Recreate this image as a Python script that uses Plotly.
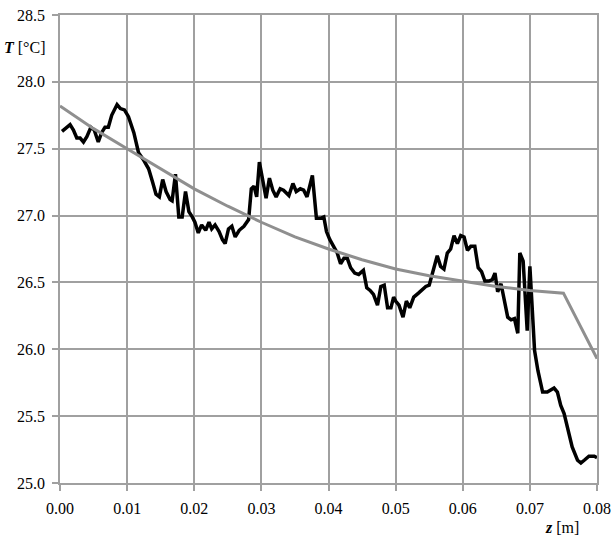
import plotly.graph_objects as go

meas_z = [0.0003, 0.0015, 0.0020, 0.0025, 0.0030, 0.0035, 0.0040, 0.0046, 0.0051, 0.0057,
          0.0062, 0.0067, 0.0072, 0.0077, 0.0085, 0.0090, 0.0096, 0.0102, 0.0110, 0.0117,
          0.0124, 0.0132, 0.0138, 0.0143, 0.0148, 0.0153, 0.0158, 0.0164, 0.0167, 0.0172,
          0.0177, 0.0182, 0.0187, 0.0192, 0.0197, 0.0201, 0.0206, 0.0211, 0.0217, 0.0222,
          0.0226, 0.0231, 0.0237, 0.0242, 0.0246, 0.0251, 0.0256, 0.0261, 0.0267, 0.0274,
          0.0281, 0.0285, 0.0289, 0.0293, 0.0297, 0.0302, 0.0307, 0.0312, 0.0317, 0.0322,
          0.0328, 0.0333, 0.0341, 0.0347, 0.0352, 0.0358, 0.0363, 0.0368, 0.0376, 0.0382,
          0.0388, 0.0393, 0.0397, 0.0402, 0.0407, 0.0413, 0.0418, 0.0423, 0.0428, 0.0433,
          0.0439, 0.0445, 0.0452, 0.0457, 0.0462, 0.0467, 0.0473, 0.0478, 0.0483, 0.0488,
          0.0493, 0.0497, 0.0500, 0.0505, 0.0511, 0.0516, 0.0521, 0.0527, 0.0534, 0.0540,
          0.0545, 0.0550, 0.0555, 0.0562, 0.0567, 0.0572, 0.0577, 0.0582, 0.0587, 0.0592,
          0.0597, 0.0602, 0.0607, 0.0612, 0.0618, 0.0623, 0.0628, 0.0633, 0.0639, 0.0644,
          0.0648, 0.0652, 0.0657, 0.0662, 0.0667, 0.0672, 0.0677, 0.0682, 0.0685, 0.0690,
          0.0696, 0.0700, 0.0704, 0.0707, 0.0712, 0.0719, 0.0726, 0.0736, 0.0741, 0.0746,
          0.0751, 0.0756, 0.0763, 0.0771, 0.0776, 0.0781, 0.0788, 0.0796, 0.0800]
meas_T = [27.63, 27.68, 27.64, 27.58, 27.58, 27.55, 27.59, 27.66, 27.64, 27.55,
          27.62, 27.66, 27.66, 27.75, 27.83, 27.80, 27.79, 27.74, 27.62, 27.47,
          27.42, 27.35, 27.25, 27.16, 27.14, 27.27, 27.18, 27.12, 27.11, 27.31,
          26.99, 26.99, 27.18, 27.03, 26.99, 26.95, 26.87, 26.93, 26.89, 26.95,
          26.90, 26.93, 26.88, 26.82, 26.79, 26.90, 26.92, 26.84, 26.89, 26.92,
          26.97, 27.20, 27.22, 27.14, 27.40, 27.25, 27.13, 27.28, 27.19, 27.14,
          27.20, 27.19, 27.15, 27.24, 27.18, 27.20, 27.19, 27.14, 27.30, 26.98,
          26.98, 26.99, 26.88, 26.82, 26.77, 26.72, 26.64, 26.68, 26.68, 26.61,
          26.57, 26.56, 26.59, 26.46, 26.44, 26.41, 26.33, 26.47, 26.48, 26.31,
          26.31, 26.39, 26.36, 26.33, 26.24, 26.36, 26.31, 26.39, 26.42, 26.45,
          26.47, 26.48, 26.58, 26.70, 26.62, 26.60, 26.72, 26.75, 26.85, 26.79,
          26.85, 26.84, 26.74, 26.77, 26.77, 26.61, 26.58, 26.51, 26.51, 26.52,
          26.57, 26.43, 26.49, 26.37, 26.24, 26.22, 26.23, 26.12, 26.72, 26.66,
          26.14, 26.62, 26.22, 25.99, 25.84, 25.68, 25.68, 25.71, 25.68, 25.58,
          25.52, 25.42, 25.27, 25.17, 25.15, 25.17, 25.20, 25.20, 25.19]

model_z = [0.000, 0.005, 0.010, 0.015, 0.020, 0.025, 0.030, 0.035, 0.040, 0.045,
           0.050, 0.055, 0.060, 0.065, 0.070, 0.075, 0.080]
model_T = [27.82, 27.65, 27.50, 27.35, 27.20, 27.07, 26.95, 26.84, 26.75, 26.67,
           26.60, 26.55, 26.51, 26.47, 26.44, 26.42, 25.93]

x_ticks = [0.00, 0.01, 0.02, 0.03, 0.04, 0.05, 0.06, 0.07, 0.08]
y_ticks = [25.0, 25.5, 26.0, 26.5, 27.0, 27.5, 28.0, 28.5]

FONT = "Liberation Serif"
GRID = "#a0a0a0"

fig = go.Figure()
fig.add_trace(go.Scatter(x=meas_z, y=meas_T, mode="lines",
                         line=dict(color="black", width=3.5), showlegend=False))
fig.add_trace(go.Scatter(x=model_z, y=model_T, mode="lines",
                         line=dict(color="#8f8f8f", width=3), showlegend=False))

axis_common = dict(showgrid=True, gridcolor=GRID, gridwidth=1.5,
                   showline=True, linecolor=GRID, linewidth=1.5, mirror=True,
                   ticks="outside", ticklen=6, tickcolor=GRID, tickwidth=1.5,
                   zeroline=False, automargin=False, ticklabelstandoff=4,
                   tickfont=dict(family=FONT, size=16, color="black"))

fig.update_layout(
    width=614, height=541,
    margin=dict(l=60, r=17, t=15, b=58),
    paper_bgcolor="white", plot_bgcolor="white",
    font=dict(family=FONT, size=16, color="black"),
    xaxis=dict(range=[0, 0.08], tickvals=x_ticks,
               ticktext=[f"{v:.2f}" for v in x_ticks], **axis_common),
    yaxis=dict(range=[25.0, 28.5], tickvals=y_ticks,
               ticktext=[f"{v:.1f}" for v in y_ticks], **axis_common),
    annotations=[
        dict(text="<b><i>T</i></b> [°C]", xref="paper", x=0, xanchor="right", xshift=-12,
             yref="y", y=28.26, yanchor="middle", showarrow=False,
             font=dict(family=FONT, size=16)),
        dict(text="<b><i>z</i></b> [m]", xref="x", x=0.0748, xanchor="center",
             yref="paper", y=0, yanchor="middle", yshift=-44, showarrow=False,
             font=dict(family=FONT, size=16)),
    ],
)

fig.write_html("out.html", config={"displayModeBar": False},
               post_script="document.body.style.margin='0';")
